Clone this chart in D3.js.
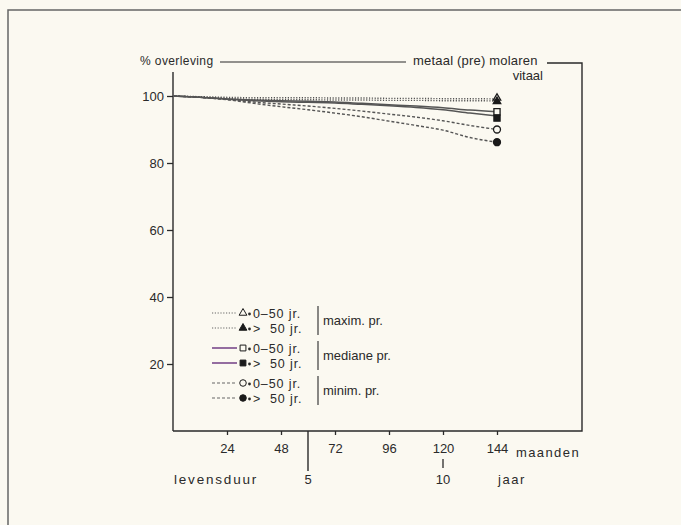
<!DOCTYPE html>
<html>
<head>
<meta charset="utf-8">
<script src="https://cdn.jsdelivr.net/npm/d3@7"></script>
<style>
  html, body { margin: 0; padding: 0; background: #fbf9f1; }
  svg { display: block; font-family: "Liberation Sans", Arial, sans-serif; }
</style>
</head>
<body>
<div id="chart"></div>
<script>
// months after placement
const months = [0, 12, 24, 36, 48, 60, 72, 84, 96, 108, 120, 132, 144];

// % survival per series
const maxYoung = [100, 99.8, 99.6, 99.5, 99.5, 99.5, 99.4, 99.4, 99.3, 99.3, 99.2, 99.2, 99.1];
const maxOld   = [100, 99.7, 99.3, 99.0, 98.9, 98.9, 98.8, 98.8, 98.7, 98.7, 98.6, 98.6, 98.5];
const medYoung = [100, 99.6, 99.1, 98.8, 98.6, 98.4, 98.2, 97.8, 97.4, 97.0, 96.5, 95.8, 95.3];
const medOld   = [100, 99.6, 99.0, 98.6, 98.3, 98.1, 97.9, 97.5, 97.1, 96.6, 95.9, 94.9, 94.0];
const minYoung = [100, 99.6, 99.0, 98.2, 97.6, 97.0, 96.3, 95.5, 94.6, 93.7, 92.6, 91.2, 90.0];
const minOld   = [100, 99.6, 98.9, 97.8, 96.8, 95.9, 94.9, 93.8, 92.5, 91.2, 89.8, 87.6, 86.2];

// end markers at 144 months
const endMarkers = [
  { symbol: 'triangle', filled: false, value: 99.4 },
  { symbol: 'triangle', filled: true, value: 98.4 },
  { symbol: 'square', filled: false, value: 95.3 },
  { symbol: 'square', filled: true, value: 93.4 },
  { symbol: 'circle', filled: false, value: 90.0 },
  { symbol: 'circle', filled: true, value: 86.2 },
];

const yTicks = [20, 40, 60, 80, 100];
const monthTicks = [24, 48, 72, 96, 120, 144];
const yearTicks = [{ year: 5, month: 60 }, { year: 10, month: 120 }];

const groups = [
  { label: 'maxim. pr.', style: 'dotted', series: [maxYoung, maxOld], legendColor: '#666' },
  { label: 'mediane pr.', style: 'solid', series: [medYoung, medOld], legendColor: '#7a4a8c' },
  { label: 'minim. pr.', style: 'dashed', series: [minYoung, minOld], legendColor: '#666' },
];
const ageLabels = ['0\u201350 jr.', '>  50 jr.'];

const width = 681, height = 525;
const ink = '#2a2a2a', lineInk = '#555';
const font = '"Liberation Sans", Arial, sans-serif';

const svg = d3.select('#chart').append('svg')
  .attr('width', width)
  .attr('height', height);

svg.append('rect').attr('width', width).attr('height', height).attr('fill', '#fbf9f1');

// page frame
svg.append('path')
  .attr('d', 'M8,525 V10 H681')
  .attr('fill', 'none')
  .attr('stroke', '#666')
  .attr('stroke-width', 1.5);

const x = d3.scaleLinear().domain([0, 144]).range([173, 497]);
const y = d3.scaleLinear().domain([0, 100]).range([431, 96]);

const dash = { dotted: '1.2,1.6', solid: null, dashed: '3,2' };
const symbolType = { triangle: d3.symbolTriangle, square: d3.symbolSquare, circle: d3.symbolCircle };

// y axis
const yAxis = svg.append('g')
  .attr('transform', `translate(${x(0)},0)`)
  .call(d3.axisLeft(y).tickValues(yTicks).tickSize(6).tickPadding(3));
yAxis.select('.domain').remove();
yAxis.selectAll('line').attr('stroke', ink).attr('stroke-width', 1.3);
yAxis.selectAll('text').attr('fill', ink).attr('font-size', 13).attr('font-family', font);

svg.append('line')
  .attr('x1', x(0)).attr('x2', x(0))
  .attr('y1', 72).attr('y2', y(0))
  .attr('stroke', ink).attr('stroke-width', 1.4);

// x axis
const xAxis = svg.append('g')
  .attr('transform', `translate(0,${y(0)})`)
  .call(d3.axisBottom(x).tickValues(monthTicks).tickSize(4).tickPadding(9));
xAxis.select('.domain').remove();
xAxis.selectAll('line').attr('stroke', ink).attr('stroke-width', 1.3);
xAxis.selectAll('text').attr('fill', ink).attr('font-size', 13).attr('font-family', font);

// box: x axis, right side, top rule
svg.append('path')
  .attr('d', `M${x(0)},${y(0)} H582 V63 H547`)
  .attr('fill', 'none')
  .attr('stroke', ink)
  .attr('stroke-width', 1.4);

svg.append('line')
  .attr('x1', 220).attr('x2', 406).attr('y1', 62).attr('y2', 62)
  .attr('stroke', ink).attr('stroke-width', 1.2);

svg.append('text')
  .attr('x', 140).attr('y', 65)
  .attr('font-size', 12).attr('letter-spacing', 0.4).attr('fill', ink)
  .text('% overleving');

svg.append('text')
  .attr('x', 413).attr('y', 65)
  .attr('font-size', 13).attr('letter-spacing', 0.2).attr('fill', ink)
  .text('metaal (pre) molaren');

svg.append('text')
  .attr('x', 543).attr('y', 80).attr('text-anchor', 'end')
  .attr('font-size', 13).attr('fill', ink)
  .text('vitaal');

svg.append('text')
  .attr('x', 516).attr('y', 457)
  .attr('font-size', 13).attr('letter-spacing', 1.4).attr('fill', ink)
  .text('maanden');

// years scale
yearTicks.forEach((t) => {
  if (t.year === 5) {
    svg.append('line')
      .attr('x1', x(t.month)).attr('x2', x(t.month))
      .attr('y1', y(0)).attr('y2', 471)
      .attr('stroke', ink).attr('stroke-width', 1.4);
  } else {
    svg.append('line')
      .attr('x1', x(t.month)).attr('x2', x(t.month))
      .attr('y1', 459).attr('y2', 468)
      .attr('stroke', ink).attr('stroke-width', 1.3);
  }
  svg.append('text')
    .attr('x', x(t.month)).attr('y', 484)
    .attr('text-anchor', 'middle')
    .attr('font-size', 13).attr('fill', ink)
    .text(t.year);
});

svg.append('text')
  .attr('x', 174).attr('y', 484)
  .attr('font-size', 13.5).attr('letter-spacing', 1.8).attr('fill', ink)
  .text('levensduur');

svg.append('text')
  .attr('x', 512).attr('y', 484).attr('text-anchor', 'middle')
  .attr('font-size', 13).attr('letter-spacing', 1.6).attr('fill', ink)
  .text('jaar');

// survival lines
const line = d3.line()
  .x((d, i) => x(months[i]))
  .y(d => y(d))
  .curve(d3.curveMonotoneX);

groups.forEach((group) => {
  group.series.forEach((values) => {
    svg.append('path')
      .datum(values)
      .attr('fill', 'none')
      .attr('stroke', lineInk)
      .attr('stroke-width', group.style === 'solid' ? 1.5 : 1.4)
      .attr('stroke-dasharray', dash[group.style])
      .attr('d', line);
  });
});

// end markers
svg.selectAll('.end-marker')
  .data(endMarkers)
  .join('path')
  .attr('class', 'end-marker')
  .attr('transform', d => `translate(${x(144)},${y(d.value)})`)
  .attr('d', d => d3.symbol(symbolType[d.symbol], d.symbol === 'triangle' ? 24 : 38)())
  .attr('fill', d => d.filled ? '#1a1a1a' : '#fbf9f1')
  .attr('stroke', '#1a1a1a')
  .attr('stroke-width', 1.3);

// legend
const legendRows = [313, 328, 348, 363, 383, 398];
const legendSymbols = endMarkers;

groups.forEach((group, gi) => {
  group.series.forEach((values, si) => {
    const ry = legendRows[gi * 2 + si];
    const m = legendSymbols[gi * 2 + si];
    svg.append('line')
      .attr('x1', 212).attr('x2', 237)
      .attr('y1', ry).attr('y2', ry)
      .attr('stroke', group.legendColor)
      .attr('stroke-width', group.style === 'solid' ? 1.6 : 1.2)
      .attr('stroke-dasharray', dash[group.style]);
    svg.append('path')
      .attr('transform', `translate(243,${ry})`)
      .attr('d', d3.symbol(symbolType[m.symbol], m.symbol === 'triangle' ? 26 : 34)())
      .attr('fill', m.filled ? '#1a1a1a' : '#fbf9f1')
      .attr('stroke', '#1a1a1a')
      .attr('stroke-width', 1);
    svg.append('circle')
      .attr('cx', 249.5).attr('cy', ry + 1).attr('r', 1.4)
      .attr('fill', ink);
    svg.append('text')
      .attr('x', 253).attr('y', ry + 4.5)
      .attr('font-size', 12.5).attr('letter-spacing', 0.9).attr('fill', ink)
      .style('white-space', 'pre')
      .text(ageLabels[si]);
  });
  const top = legendRows[gi * 2] - 7;
  const bottom = legendRows[gi * 2 + 1] + 7;
  svg.append('line')
    .attr('x1', 318).attr('x2', 318)
    .attr('y1', top).attr('y2', bottom)
    .attr('stroke', ink).attr('stroke-width', 1.1);
  svg.append('text')
    .attr('x', 323).attr('y', (top + bottom) / 2 + 4)
    .attr('font-size', 13).attr('fill', ink)
    .text(group.label);
});
</script>
</body>
</html>
